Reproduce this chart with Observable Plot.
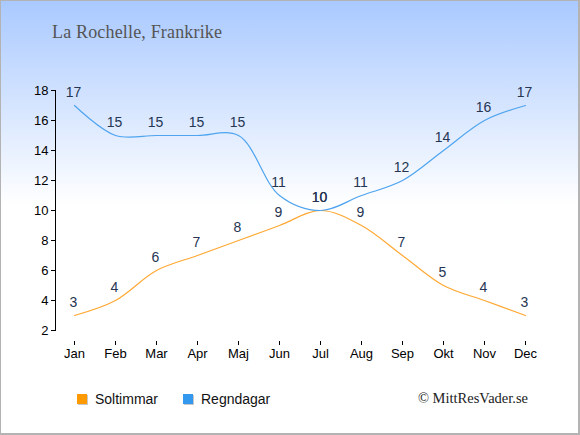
<!DOCTYPE html>
<html>
<head>
<meta charset="utf-8">
<script src="https://cdn.jsdelivr.net/npm/d3@7"></script>
<script src="https://cdn.jsdelivr.net/npm/@observablehq/plot@0.6"></script>
<style>
html, body { margin: 0; padding: 0; background: #fff; }
#wrap { position: relative; width: 580px; height: 435px; overflow: hidden;
  background: linear-gradient(to bottom, #a9c9ff 0px, #ffffff 205px, #ffffff 435px); }
#wrap svg { position: absolute; left: 0; top: 0; }
#border { position: absolute; left: 0; top: 0; width: 580px; height: 435px; box-sizing: border-box;
  border: 1px solid #b3b3b3; border-right-width: 2px; border-bottom-width: 2px; pointer-events: none; }
</style>
</head>
<body>
<div id="wrap"><div id="border"></div></div>
<script>
const months = ["Jan","Feb","Mar","Apr","Maj","Jun","Jul","Aug","Sep","Okt","Nov","Dec"];
const sunHours = [3,4,6,7,8,9,10,9,7,5,4,3];
const rainDays = [17,15,15,15,15,11,10,11,12,14,16,17];
const yTicks = [2,4,6,8,10,12,14,16,18];
const seriesNames = ["Soltimmar","Regndagar"];
const lineColors = ["#ffa833","#4ea4ef"];
const swatchColors = ["#ff9900","#3399ee"];

const sun = months.map((m, i) => ({month: m, value: sunHours[i]}));
const rain = months.map((m, i) => ({month: m, value: rainDays[i]}));

const labelColor = "#253552";
const sans = "'Liberation Sans', Arial, sans-serif";
const serif = "'Liberation Serif', 'Times New Roman', serif";

const chart = Plot.plot({
  width: 580,
  height: 435,
  marginTop: 90,
  marginBottom: 105,
  marginLeft: 55,
  marginRight: 55,
  x: {type: "point", domain: months, padding: 0, insetLeft: 19},
  y: {domain: [2, 18]},
  style: {background: "transparent", fontFamily: sans, fontSize: "13px", color: "#000", overflow: "visible"},
  marks: [
    Plot.frame({anchor: "left", stroke: "#000"}),
    Plot.axisY({ticks: yTicks, tickSize: 4, tickPadding: 3, label: null, fontSize: 13, fill: "#000"}),
    Plot.ruleY([2], {x1: months[0], x2: months[months.length - 1], dy: 11, stroke: "#000"}),
    Plot.axisX({tickSize: 4, tickPadding: 3, dy: 11, label: null, fontSize: 13, fill: "#000"}),
    Plot.line(sun, {x: "month", y: "value", stroke: lineColors[0], strokeWidth: 1.2, curve: "catmull-rom"}),
    Plot.line(rain, {x: "month", y: "value", stroke: lineColors[1], strokeWidth: 1.2, curve: "catmull-rom"}),
    Plot.text(sun, {x: "month", y: "value", text: d => String(d.value), dy: -13, dx: -1, fill: labelColor, fontSize: 14}),
    Plot.text(rain, {x: "month", y: "value", text: d => String(d.value), dy: -13, dx: -1, fill: labelColor, fontSize: 14})
  ]
});

const wrap = document.getElementById("wrap");
wrap.insertBefore(chart, document.getElementById("border"));

// Overlay: title, legend, credit
const ov = d3.create("svg").attr("width", 580).attr("height", 435)
  .style("position", "absolute").style("left", "0").style("top", "0");

ov.append("text")
  .attr("x", 52).attr("y", 38)
  .attr("font-family", serif).attr("font-size", 18)
  .attr("textLength", 170).attr("lengthAdjust", "spacing")
  .attr("fill", "#555")
  .text("La Rochelle, Frankrike");

const legendX = [77, 183];
seriesNames.forEach((name, i) => {
  const g = ov.append("g");
  g.append("rect").attr("x", legendX[i] + 1).attr("y", 394 + 1).attr("width", 10).attr("height", 10).attr("fill", "#c8c8c8");
  g.append("rect").attr("x", legendX[i]).attr("y", 394).attr("width", 10).attr("height", 10).attr("fill", swatchColors[i]);
  g.append("text").attr("x", legendX[i] + 18).attr("y", 403.5)
    .attr("font-family", sans).attr("font-size", 14).attr("fill", "#111").text(name);
});

ov.append("text")
  .attr("x", 528).attr("y", 402.5)
  .attr("text-anchor", "end")
  .attr("font-family", serif).attr("font-size", 14.5)
  .attr("fill", "#222")
  .text("© MittResVader.se");

wrap.insertBefore(ov.node(), document.getElementById("border"));
</script>
</body>
</html>
